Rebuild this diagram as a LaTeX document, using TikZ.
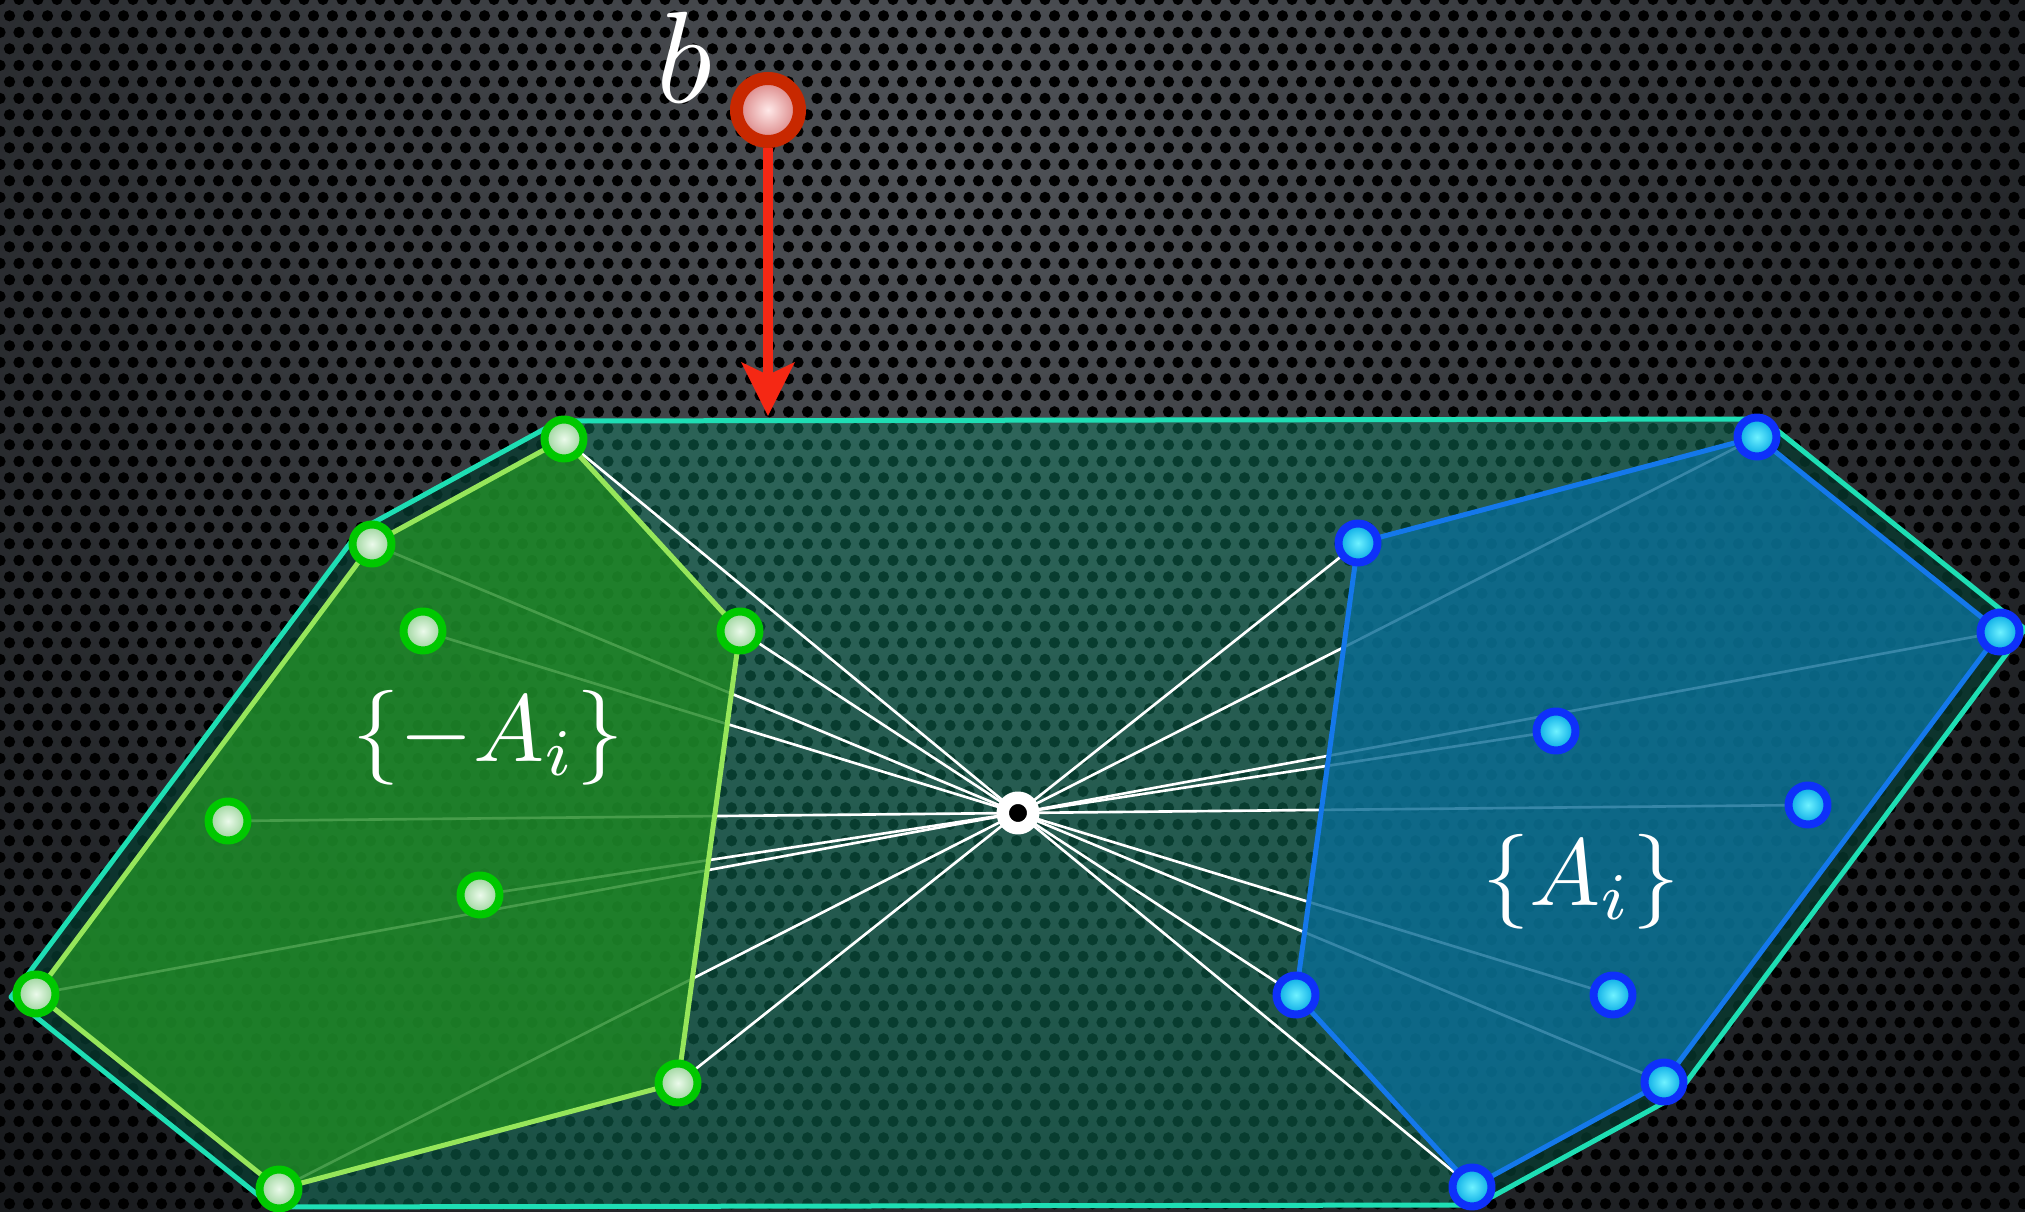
\documentclass[tikz,border=0pt]{standalone}
\usepackage{tikz}
\usetikzlibrary{positioning,arrows.meta,calc,patterns}
\usepackage{xcolor}

\definecolor{bgtop}{RGB}{80,83,88}
\definecolor{bgedge}{RGB}{24,26,29}
\definecolor{hullfill}{RGB}{18,135,105}
\definecolor{hullline}{RGB}{30,222,180}
\definecolor{grfill}{RGB}{30,135,35}
\definecolor{grline}{RGB}{150,230,90}
\definecolor{grring}{RGB}{0,200,0}
\definecolor{grin}{RGB}{235,250,235}
\definecolor{grout}{RGB}{150,210,150}
\definecolor{blfill}{RGB}{10,108,148}
\definecolor{blline}{RGB}{20,120,235}
\definecolor{blring}{RGB}{14,48,250}
\definecolor{blin}{RGB}{110,242,255}
\definecolor{blout}{RGB}{0,165,228}
\definecolor{redring}{RGB}{200,40,0}
\definecolor{redin}{RGB}{255,232,232}
\definecolor{redout}{RGB}{215,125,125}
\definecolor{arrowred}{RGB}{245,40,20}
\definecolor{bandcol}{RGB}{4,34,30}

% perforated sheet, hex holes 19px apart
\pgfdeclarepatternformonly{holes}{\pgfqpoint{0pt}{0pt}}{\pgfqpoint{5.406pt}{9.363pt}}{\pgfqpoint{5.406pt}{9.363pt}}{
  \pgfpathcircle{\pgfqpoint{2.703pt}{2.341pt}}{1.6pt}
  \pgfpathcircle{\pgfqpoint{0pt}{7.022pt}}{1.6pt}
  \pgfpathcircle{\pgfqpoint{5.406pt}{7.022pt}}{1.6pt}
  \pgfusepath{fill}
}

\tikzset{
  pt/.style={circle, minimum size=0.39cm, inner sep=0pt, line width=0.08cm},
  gpt/.style={pt, draw=grring, inner color=grin, outer color=grout},
  bpt/.style={pt, draw=blring, inner color=blin, outer color=blout},
  rpt/.style={circle, minimum size=0.63cm, inner sep=0pt, line width=0.13cm,
    draw=redring, inner color=redin, outer color=redout},
  origin/.style={circle, fill=black, draw=white, line width=0.125cm,
    minimum size=0.305cm, inner sep=0pt},
  ray/.style={white, line width=0.75pt},
  setlbl/.style={text=white, scale=2.7, inner sep=0pt},
}

\begin{document}
\begin{tikzpicture}[
  line join=round,
  pointer/.style={arrowred, line width=0.1cm,
    -{Stealth[length=0.53cm, width=0.52cm, inset=0.12cm]}}
]

\useasboundingbox (0,0) rectangle (20.25,12.12);

% background
\begin{scope}
\clip (0,0) rectangle (20.25,12.12);
\fill[bgedge] (0,0) rectangle (20.25,12.12);
\shade[inner color=bgtop, outer color=bgedge] (9.5,10.5) circle (14);
\fill[pattern=holes, pattern color=black] (0,0) rectangle (20.25,12.12);
\end{scope}

% centre and the points A_i
\coordinate (c) at (10.18,3.99);
\coordinate (b1) at (17.57,7.75);
\coordinate (b2) at (13.58,6.69);
\coordinate (b3) at (20.00,5.80);
\coordinate (b4) at (15.56,4.81);
\coordinate (b5) at (18.08,4.07);
\coordinate (b6) at (12.96,2.17);
\coordinate (b7) at (16.13,2.17);
\coordinate (b8) at (16.64,1.30);
\coordinate (b9) at (14.72,0.25);

% the points -A_i
\foreach \n/\m in {1/9,2/8,3/7,4/6,5/5,6/4,7/3,8/2,9/1}
  \coordinate (g\n) at ($(c)!-1!(b\m)$);

% hull, drawn a little outside the points
\coordinate (h1) at (5.59,7.91);
\coordinate (h2) at (17.63,7.93);
\coordinate (h3) at (20.25,5.83);
\coordinate (h4) at (16.76,1.16);
\coordinate (h5) at (14.77,0.07);
\coordinate (h6) at (2.73,0.05);
\coordinate (h7) at (0.11,2.15);
\coordinate (h8) at (3.60,6.82);

\fill[hullfill, fill opacity=0.45] (h1) -- (h2) -- (h3) -- (h4) -- (h5) -- (h6) -- (h7) -- (h8) -- cycle;
\begin{scope}
\clip (h1) -- (h2) -- (h3) -- (h4) -- (h5) -- (h6) -- (h7) -- (h8) -- cycle;
\draw[bandcol, opacity=0.6, line width=0.36cm] (h2) -- (h3) -- (h4) -- (h5);
\draw[bandcol, opacity=0.6, line width=0.36cm] (h6) -- (h7) -- (h8) -- (h1);
\end{scope}
\draw[hullline, line width=0.05cm] (h1) -- (h2) -- (h3) -- (h4) -- (h5) -- (h6) -- (h7) -- (h8) -- cycle;

\foreach \n in {1,...,9} {
  \draw[ray] (c) -- (g\n);
  \draw[ray] (c) -- (b\n);
}

\filldraw[fill=grfill, fill opacity=0.82, draw=grline, line width=0.05cm]
  (g1) -- (g4) -- (g8) -- (g9) -- (g7) -- (g2) -- cycle;
\filldraw[fill=blfill, fill opacity=0.82, draw=blline, line width=0.05cm]
  (b1) -- (b3) -- (b8) -- (b9) -- (b6) -- (b2) -- cycle;

\foreach \n in {1,...,9} {
  \node[gpt] (gp\n) at (g\n) {};
  \node[bpt] (bp\n) at (b\n) {};
}

\node[origin] (o) at (c) {};

\node[setlbl] (neg) at (4.88,4.74) {$\{-A_i\}$};
\node[setlbl] (pos) at (15.81,3.30) {$\{A_i\}$};

% the point b and its projection
\node[rpt] (bb) at (7.68,11.02) {};
\node[text=white, scale=3.7, inner sep=0pt] (blbl) at (6.84,11.55) {$b$};
\coordinate (hit) at (7.68,7.96);
\draw[pointer] (bb) -- (hit);

\end{tikzpicture}
\end{document}
